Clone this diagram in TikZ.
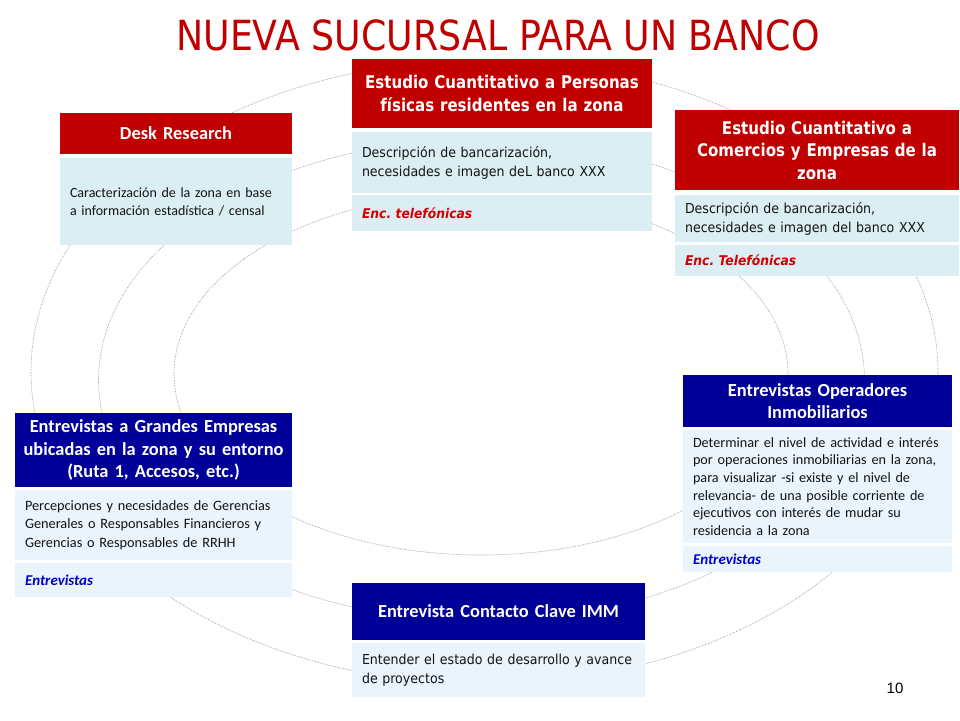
\documentclass[tikz,border=0pt]{standalone}
\usepackage{fontspec}
\setmainfont{Carlito}
\newfontfamily\tah[FakeStretch=0.86]{DejaVu Sans}
\newfontfamily\tahb[FakeStretch=0.92]{DejaVu Sans}
\newfontfamily\titlef[FakeStretch=0.875]{DejaVu Sans}
\newfontfamily\arialf{Liberation Sans}
\definecolor{hred}{RGB}{192,0,0}
\definecolor{tred}{RGB}{192,0,0}
\definecolor{hblue}{RGB}{0,0,153}
\definecolor{lbA}{RGB}{218,238,243}
\definecolor{lbB}{RGB}{233,244,252}
\definecolor{ired}{RGB}{210,0,0}
\definecolor{iblue}{RGB}{0,0,204}
\definecolor{ringc}{RGB}{150,150,168}
\definecolor{txt}{RGB}{20,20,20}
\tikzset{
  ring/.style={draw=ringc, line width=0.6pt, dash pattern=on 0.7pt off 0.9pt},
  grp/.style={fill=white, draw=none},
  boxbase/.style={anchor=north west, inner ysep=0pt, outer sep=0pt, draw=none},
  redhdr/.style={boxbase, fill=hred, text=white, align=center, inner xsep=4pt},
  bluehdr/.style={boxbase, fill=hblue, text=white, align=center, inner xsep=4pt},
  bodyA/.style={boxbase, fill=lbA, text=txt, align=left, inner xsep=10pt},
  bodyB/.style={boxbase, fill=lbB, text=txt, align=left, inner xsep=10pt},
  calhdr/.style={font=\bfseries\fontsize{18.4}{22.5}\selectfont},
  calbody/.style={font=\fontsize{14.3}{18.2}\selectfont},
  tahhdr/.style={font=\tah\bfseries\fontsize{17.5}{22.5}\selectfont},
  tahbody/.style={font=\tahb\fontsize{13.7}{19}\selectfont},
  redmark/.style={text=ired, font=\tahb\bfseries\itshape\fontsize{13.4}{16}\selectfont},
  bluemark/.style={text=iblue, font=\bfseries\itshape\fontsize{15}{16}\selectfont},
}
\begin{document}
\begin{tikzpicture}[x=1pt,y=-1pt]
\frenchspacing
\useasboundingbox (0,0) rectangle (960,720);
\fill[white] (0,0) rectangle (960,720);
% rings
\draw[ring] (484.5,372) ellipse [x radius=453.5pt, y radius=312pt];
\draw[ring] (481.5,380) ellipse [x radius=383pt, y radius=241pt];
\draw[ring] (481,374) ellipse [x radius=307pt, y radius=181pt];
% title
\node[anchor=base, text=tred, inner sep=0pt] (title) at (498,50)
  {\titlef\fontsize{41.5}{48}\selectfont NUEVA SUCURSAL PARA UN BANCO};
% Desk Research
\fill[grp] (60,113) rectangle (292,245);
\node[redhdr, calhdr, minimum width=232pt, minimum height=41pt, text width=224pt] (dh) at (60,113) {Desk Research};
\node[bodyA, font=\fontsize{14}{18}\selectfont, minimum height=87pt, text width=212pt] (db) at (60,158)
  {Caracterización de la zona en base\\a información estadística / censal};
% Personas
\fill[grp] (352,59) rectangle (652,231);
\node[redhdr, tahhdr, minimum width=300pt, minimum height=69pt, text width=292pt] (ph) at (352,59)
  {Estudio Cuantitativo a Personas\\físicas residentes en la zona};
\node[bodyA, tahbody, minimum height=61pt, text width=280pt] (pb) at (352,132)
  {Descripción de bancarización,\\necesidades e imagen deL banco XXX};
\node[bodyA, redmark, minimum height=36pt, text width=280pt] (pm) at (352,195)
  {Enc. telefónicas};
% Comercios
\fill[grp] (675,110) rectangle (959,276);
\node[redhdr, tahhdr, minimum width=284pt, minimum height=80pt, text width=276pt] (ch) at (675,110)
  {Estudio Cuantitativo a\\Comercios y Empresas de la\\zona};
\node[bodyA, tahbody, minimum height=47pt, text width=264pt] (cb) at (675,195)
  {Descripción de bancarización,\\necesidades e imagen del banco XXX};
\node[bodyA, redmark, minimum height=31pt, text width=264pt] (cm) at (675,245)
  {Enc. Telefónicas};
% Grandes Empresas
\fill[grp] (15,413) rectangle (292,597);
\node[bluehdr, calhdr, minimum width=277pt, minimum height=74pt, text width=269pt] (gh) at (15,413)
  {Entrevistas a Grandes Empresas\\ubicadas en la zona y su entorno\\(Ruta 1, Accesos, etc.)};
\node[bodyB, calbody, minimum height=70pt, text width=257pt] (gb) at (15,490)
  {Percepciones y necesidades de Gerencias\\Generales o Responsables Financieros y\\Gerencias o Responsables de RRHH};
\node[bodyB, bluemark, minimum height=34pt, text width=257pt] (gm) at (15,563)
  {Entrevistas};
% Operadores
\fill[grp] (683,375) rectangle (952,572);
\node[bluehdr, calhdr, minimum width=269pt, minimum height=52pt, text width=261pt] (oh) at (683,375)
  {Entrevistas Operadores\\Inmobiliarios};
\node[bodyB, font=\fontsize{14.2}{17.6}\selectfont, minimum height=113pt, text width=249pt] (ob) at (683,430)
  {Determinar el nivel de actividad e interés\\por operaciones inmobiliarias en la zona,\\para visualizar -si existe y el nivel de\\relevancia- de una posible corriente de\\ejecutivos con interés de mudar su\\residencia a la zona};
\node[bodyB, bluemark, minimum height=26pt, text width=249pt] (om) at (683,546)
  {Entrevistas};
% IMM
\fill[grp] (352,583) rectangle (645,697);
\node[bluehdr, calhdr, minimum width=293pt, minimum height=57pt, text width=285pt] (ih) at (352,583)
  {Entrevista Contacto Clave IMM};
\node[bodyB, tahbody, minimum height=54pt, text width=273pt] (ib) at (352,643)
  {Entender el estado de desarrollo y avance\\de proyectos};
% page number
\node[anchor=base, inner sep=0pt, text=black, font=\arialf\fontsize{15}{18}\selectfont] (pg) at (895,693) {10};
\end{tikzpicture}
\end{document}
